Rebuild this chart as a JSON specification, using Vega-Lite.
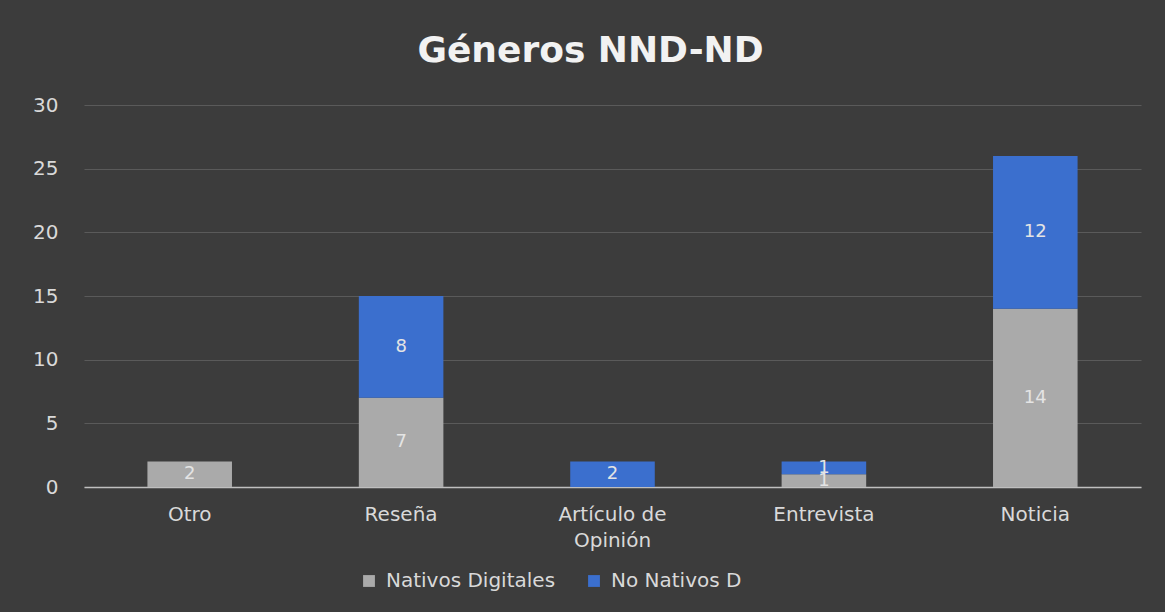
{
  "$schema": "https://vega.github.io/schema/vega-lite/v6.json",
  "width": 1057,
  "height": 382,
  "autosize": {"type": "none"},
  "padding": {"left": 84, "top": 105, "right": 24, "bottom": 125},
  "background": "#3c3c3c",
  "title": {
    "text": "Géneros NND-ND",
    "font": "DejaVu Sans",
    "fontSize": 36,
    "fontWeight": "bold",
    "color": "#f2f2f2",
    "anchor": "middle",
    "baseline": "alphabetic",
    "offset": -3,
    "dx": -22
  },
  "config": {
    "view": {"stroke": null},
    "font": "DejaVu Sans"
  },
  "data": {
    "values": [
      {"genero": "Otro", "serie": "Nativos Digitales", "valor": 2},
      {"genero": "Otro", "serie": "No Nativos D", "valor": 0},
      {"genero": "Reseña", "serie": "Nativos Digitales", "valor": 7},
      {"genero": "Reseña", "serie": "No Nativos D", "valor": 8},
      {"genero": "Artículo de Opinión", "serie": "Nativos Digitales", "valor": 0},
      {"genero": "Artículo de Opinión", "serie": "No Nativos D", "valor": 2},
      {"genero": "Entrevista", "serie": "Nativos Digitales", "valor": 1},
      {"genero": "Entrevista", "serie": "No Nativos D", "valor": 1},
      {"genero": "Noticia", "serie": "Nativos Digitales", "valor": 14},
      {"genero": "Noticia", "serie": "No Nativos D", "valor": 12}
    ]
  },
  "transform": [
    {"stack": "valor", "groupby": ["genero"], "sort": [{"field": "serie", "order": "ascending"}], "as": ["v0", "v1"]},
    {"calculate": "(datum.v0 + datum.v1) / 2", "as": "vmid"}
  ],
  "encoding": {
    "x": {
      "field": "genero",
      "type": "nominal",
      "sort": ["Otro", "Reseña", "Artículo de Opinión", "Entrevista", "Noticia"],
      "scale": {"paddingInner": 0.6, "paddingOuter": 0.3},
      "axis": {
        "title": null,
        "labelAngle": 0,
        "labelFontSize": 20,
        "labelColor": "#d9d9d9",
        "labelPadding": 17,
        "labelLineHeight": 26,
        "labelExpr": "datum.label == 'Artículo de Opinión' ? ['Artículo de', 'Opinión'] : datum.label",
        "ticks": false,
        "domainColor": "#bfbfbf",
        "domainWidth": 1.5,
        "grid": false
      }
    }
  },
  "layer": [
    {
      "mark": {"type": "bar"},
      "encoding": {
        "y": {
          "field": "v0",
          "type": "quantitative",
          "scale": {"domain": [0, 30]},
          "axis": {
            "title": null,
            "values": [0, 5, 10, 15, 20, 25, 30],
            "labelFontSize": 20,
            "labelColor": "#d9d9d9",
            "labelPadding": 26,
            "ticks": false,
            "domain": false,
            "gridColor": "#5a5a5a",
            "gridWidth": 1
          }
        },
        "y2": {"field": "v1"},
        "color": {
          "field": "serie",
          "type": "nominal",
          "scale": {"domain": ["Nativos Digitales", "No Nativos D"], "range": ["#aaaaaa", "#3b6fce"]},
          "legend": {
            "title": null,
            "orient": "none",
            "direction": "horizontal",
            "legendX": 275,
            "legendY": 466,
            "symbolType": "square",
            "symbolSize": 140,
            "symbolStrokeWidth": 0,
            "labelFontSize": 20,
            "labelColor": "#d9d9d9",
            "labelOffset": 7,
            "labelLimit": 400,
            "columnPadding": 28
          }
        }
      }
    },
    {
      "transform": [{"filter": "datum.valor > 0"}],
      "mark": {"type": "text", "fontSize": 18, "color": "#e4e4e4", "baseline": "middle", "align": "center"},
      "encoding": {
        "y": {"field": "vmid", "type": "quantitative"},
        "text": {"field": "valor", "type": "quantitative"}
      }
    }
  ]
}
